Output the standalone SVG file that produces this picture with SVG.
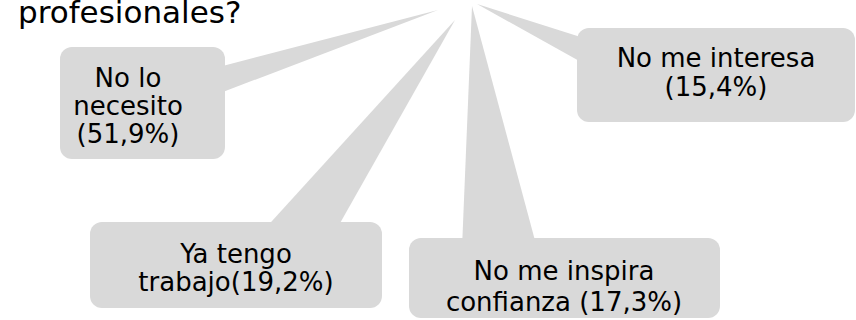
<svg xmlns="http://www.w3.org/2000/svg" width="856" height="320" viewBox="0 0 856 320">
<style>
.box{fill:#D9D9D9}
.ptr{fill:#D9D9D9}
.lbl{font-family:"DejaVu Sans","Liberation Sans",sans-serif;font-size:26px;fill:#000;text-anchor:middle}
.title{font-family:"DejaVu Sans","Liberation Sans",sans-serif;font-size:31px;fill:#000}
</style>
<rect width="856" height="320" fill="#fff"/>
<g id="title"><text class="title" x="18" y="23">profesionales?</text></g>
<g id="connectors">
<polygon class="ptr" points="438,10 215,68 215,95"/>
<polygon class="ptr" points="477,4 590,40 590,67"/>
<polygon class="ptr" points="455,20 262,232 335,232"/>
<polygon class="ptr" points="472,6 462,248 537,248"/>
</g>
<g id="node-necesito">
<rect class="box" x="60" y="47" width="165" height="112" rx="12"/>
<text class="lbl" x="128" y="87">No lo</text>
<text class="lbl" x="128" y="115">necesito</text>
<text class="lbl" x="128" y="143">(51,9%)</text>
</g>
<g id="node-interesa">
<rect class="box" x="577" y="28" width="278" height="94" rx="12"/>
<text class="lbl" x="716" y="67">No me interesa</text>
<text class="lbl" x="716" y="96">(15,4%)</text>
</g>
<g id="node-trabajo">
<rect class="box" x="90" y="222" width="292" height="86" rx="12"/>
<text class="lbl" x="236" y="263">Ya tengo</text>
<text class="lbl" x="236" y="291">trabajo(19,2%)</text>
</g>
<g id="node-confianza">
<rect class="box" x="409" y="238" width="311" height="80" rx="12"/>
<text class="lbl" x="564" y="280">No me inspira</text>
<text class="lbl" x="564" y="311">confianza (17,3%)</text>
</g>
</svg>
